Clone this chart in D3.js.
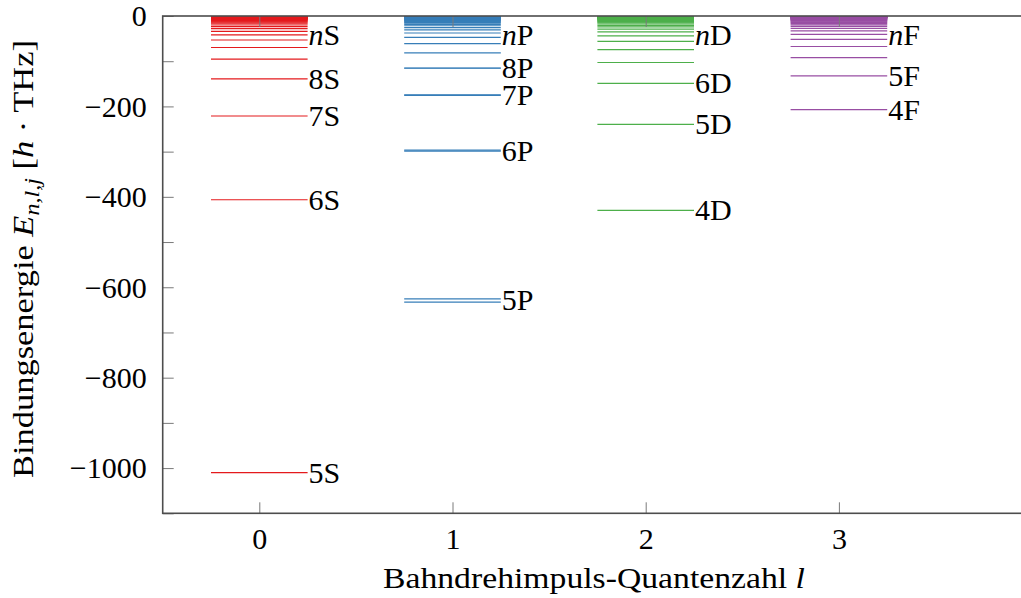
<!DOCTYPE html>
<html>
<head>
<meta charset="utf-8">
<script src="https://cdn.jsdelivr.net/npm/d3@7/dist/d3.min.js"></script>
<style>
  html, body { margin: 0; padding: 0; background: #fff; }
  svg { display: block; }
  text { font-family: "Liberation Serif", "DejaVu Serif", serif; fill: #000; }
</style>
</head>
<body>
<svg id="chart" width="1021" height="598"></svg>
<script>
// Rubidium term scheme: binding energies in THz (E / h), grouped by orbital angular momentum l.

const lValues = [0, 1, 2, 3];
const seriesLetters = ["S", "P", "D", "F"];

// S states, n = 5 ... 45
const firstNS = 5;
const energyS = [-1010.0, -406.5, -221.2, -139.2, -95.5, -69.7, -53.1, -41.8, -33.8, -27.9,
  -23.4, -19.9, -17.1, -14.9, -13.1, -11.6, -10.3, -9.2, -8.3, -7.6,
  -6.9, -6.3, -5.8, -5.3, -4.9, -4.6, -4.2, -4.0, -3.7, -3.5,
  -3.2, -3.1, -2.9, -2.7, -2.6, -2.4, -2.3, -2.2, -2.1, -2.0, -1.9];

// P states: j = 3/2 for n = 5 ... 45, j = 1/2 where the fine structure is resolved (n = 5 ... 8)
const firstNP = 5;
const energyP32 = [-625.8, -296.7, -174.5, -115.0, -81.5, -60.9, -47.2, -37.6, -30.7, -25.5,
  -21.6, -18.5, -16.0, -14.0, -12.3, -10.9, -9.8, -8.8, -7.9, -7.2,
  -6.6, -6.0, -5.6, -5.1, -4.7, -4.4, -4.1, -3.8, -3.6, -3.4,
  -3.1, -3.0, -2.8, -2.6, -2.5, -2.4, -2.2, -2.1, -2.0, -1.9, -1.8];
const energyP12 = [-632.9, -299.1, -175.6, -115.6];

// D states, n = 4 ... 45
const firstND = 4;
const energyD = [-429.8, -239.5, -149.0, -102.9, -74.3, -56.2, -43.9, -35.3, -29.0, -24.2,
  -20.6, -17.7, -15.3, -13.4, -11.9, -10.6, -9.5, -8.5, -7.7, -7.0,
  -6.4, -5.9, -5.4, -5.0, -4.6, -4.3, -4.0, -3.7, -3.5, -3.3,
  -3.1, -2.9, -2.7, -2.6, -2.4, -2.3, -2.2, -2.1, -2.0, -1.9, -1.8, -1.7];

// F states, n = 4 ... 45
const firstNF = 4;
const energyF = [-207.3, -132.5, -91.9, -67.5, -51.6, -40.8, -33.0, -27.3, -22.9, -19.5,
  -16.8, -14.7, -12.9, -11.4, -10.2, -9.1, -8.2, -7.5, -6.8, -6.2,
  -5.7, -5.3, -4.9, -4.5, -4.2, -3.9, -3.7, -3.4, -3.2, -3.0,
  -2.9, -2.7, -2.5, -2.4, -2.3, -2.2, -2.1, -2.0, -1.9, -1.8, -1.7, -1.6];

// Which principal quantum numbers get a name tag, per series
const labelledNS = [5, 6, 7, 8];
const labelledNP = [5, 6, 7, 8];
const labelledND = [4, 5, 6];
const labelledNF = [4, 5];
// Energy at which the generic "nX" tag of each series sits
const rydbergTagEnergy = -42;

// Axis ticks
const yTickValues = [-1100, -1000, -900, -800, -700, -600, -500, -400, -300, -200, -100, 0];
const yTickLabels = ["", "\u22121000", "", "\u2212800", "", "\u2212600", "", "\u2212400", "", "\u2212200", "", "0"];
const xTickValues = [0, 1, 2, 3];
const xTickLabels = ["0", "1", "2", "3"];

// ---------- styling ----------
const colors = ["#e41a1c", "#377eb8", "#4daf4a", "#984ea3"];
const fontSize = 30;

const svg = d3.select("#chart");
const x = d3.scaleLinear().domain([-0.5, 4]).range([162.7, 1032.1]);
const y = d3.scaleLinear().domain([-1100, 0]).range([513.3, 16]);
const halfWidth = 0.25;

// assemble the level lists per series
const seriesLevels = [
  energyS.map((E, i) => ({ n: firstNS + i, E })),
  energyP32.map((E, i) => ({ n: firstNP + i, E })).concat(energyP12.map((E, i) => ({ n: firstNP + i, E }))),
  energyD.map((E, i) => ({ n: firstND + i, E })),
  energyF.map((E, i) => ({ n: firstNF + i, E }))
];
const labelledN = [labelledNS, labelledNP, labelledND, labelledNF];

// level lines
const levels = svg.append("g").attr("class", "levels");
lValues.forEach((l, k) => {
  levels.append("g")
    .attr("stroke", colors[k])
    .attr("stroke-width", 1.2)
    .selectAll("line")
    .data(seriesLevels[k])
    .join("line")
    .attr("x1", x(l - halfWidth))
    .attr("x2", x(l + halfWidth))
    .attr("y1", d => y(d.E))
    .attr("y2", d => y(d.E));
});

// state names
const tags = svg.append("g").attr("class", "tags").attr("font-size", fontSize);
lValues.forEach((l, k) => {
  const tagData = labelledN[k].map(n => {
    const es = seriesLevels[k].filter(d => d.n === n).map(d => d.E);
    return { n, E: d3.mean(es) };
  });
  tags.selectAll(null)
    .data(tagData)
    .join("text")
    .attr("x", x(l + halfWidth) + 1)
    .attr("y", d => y(d.E) + fontSize * 0.33)
    .text(d => d.n + seriesLetters[k]);

  const t = tags.append("text")
    .attr("x", x(l + halfWidth) + 1)
    .attr("y", y(rydbergTagEnergy) + fontSize * 0.33);
  t.append("tspan").attr("font-style", "italic").text("n");
  t.append("tspan").text(seriesLetters[k]);
});

// axes frame and ticks (drawn over the levels)
const frame = svg.append("g").attr("class", "frame");
const [xl, xr] = x.range();
const [yb, yt] = y.range();
const tickLen = 11;

const yAxisLeft = d3.axisLeft(y).tickValues(yTickValues).tickSize(-tickLen).tickFormat((d, i) => yTickLabels[i]).tickPadding(16);
const yAxisRight = d3.axisRight(y).tickValues(yTickValues).tickSize(-tickLen).tickFormat("");
const xAxisBottom = d3.axisBottom(x).tickValues(xTickValues).tickSize(-tickLen).tickFormat((d, i) => xTickLabels[i]).tickPadding(14);
const xAxisTop = d3.axisTop(x).tickValues(xTickValues).tickSize(-tickLen).tickFormat("");

function styleAxis(g) {
  g.select(".domain").remove();
  g.selectAll(".tick line").attr("stroke", "#7a7a7a").attr("stroke-width", 1);
  g.selectAll(".tick text")
    .attr("font-size", fontSize)
    .attr("font-family", "Liberation Serif, DejaVu Serif, serif")
    .attr("fill", "#000");
}

frame.append("g").attr("transform", `translate(${xl},0)`).call(yAxisLeft).call(styleAxis)
  .selectAll(".tick text").attr("dy", "0.33em");
frame.append("g").attr("transform", `translate(${xr},0)`).call(yAxisRight).call(styleAxis);
frame.append("g").attr("transform", `translate(0,${yb})`).call(xAxisBottom).call(styleAxis)
  .selectAll(".tick text").attr("dy", "0.71em");
frame.append("g").attr("transform", `translate(0,${yt})`).call(xAxisTop).call(styleAxis);

frame.append("rect")
  .attr("x", xl).attr("y", yt)
  .attr("width", xr - xl).attr("height", yb - yt)
  .attr("fill", "none")
  .attr("stroke", "#4d4d4d")
  .attr("stroke-width", 1.6);

// axis titles
const xTitle = svg.append("text")
  .attr("x", 383)
  .attr("y", 588)
  .attr("textLength", 422)
  .attr("lengthAdjust", "spacingAndGlyphs")
  .attr("font-size", fontSize);
xTitle.append("tspan").text("Bahndrehimpuls-Quantenzahl ");
xTitle.append("tspan").attr("font-style", "italic").text("l");

const yTitle = svg.append("text")
  .attr("transform", "translate(33,478) rotate(-90)")
  .attr("textLength", 438)
  .attr("lengthAdjust", "spacingAndGlyphs")
  .attr("font-size", fontSize);
yTitle.append("tspan").text("Bindungsenergie ");
yTitle.append("tspan").attr("font-style", "italic").text("E");
yTitle.append("tspan").attr("font-style", "italic").attr("font-size", fontSize * 0.7).attr("dy", 6).text("n,l,j");
yTitle.append("tspan").attr("dy", -6).text(" [");
yTitle.append("tspan").attr("font-style", "italic").text("h");
yTitle.append("tspan").text(" \u00b7 THz]");
</script>
</body>
</html>
